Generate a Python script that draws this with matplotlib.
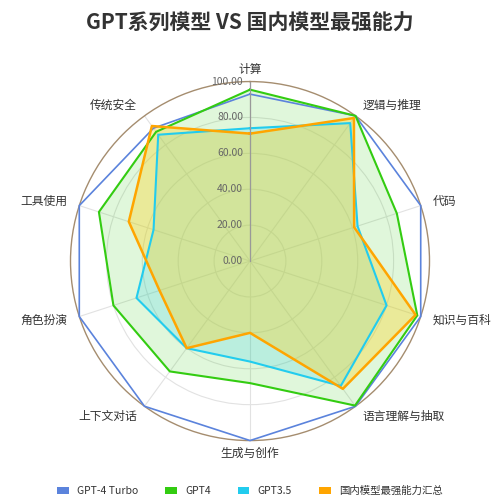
import numpy as np
import matplotlib
matplotlib.use("Agg")
import matplotlib.pyplot as plt
from matplotlib.patches import Patch
from matplotlib.transforms import offset_copy

plt.rcParams['font.family'] = ['Noto Sans CJK SC', 'DejaVu Sans']

categories = ['计算', '逻辑与推理', '代码', '知识与百科', '语言理解与抽取',
              '生成与创作', '上下文对话', '角色扮演', '工具使用', '传统安全']
gpt4_turbo = [93, 100, 100, 100, 100, 100, 100, 100, 100, 91.5]
gpt4 = [95.5, 100, 86, 98, 99.5, 68, 76, 80, 88.5, 89]
gpt35 = [74, 95, 63, 80, 86, 56, 60, 66.5, 56.5, 87]
domestic = [71, 98.5, 61, 97, 88, 40, 60, 53, 71, 93]
series_names = ['GPT-4 Turbo', 'GPT4', 'GPT3.5', '国内模型最强能力汇总']
radial_ticks = [0, 20, 40, 60, 80, 100]

BLUE, GREEN, CYAN, ORANGE = "#5b83dc", "#33cc11", "#22ccee", "#ffa500"
TEXT = "#333333"

fig = plt.figure(figsize=(5.0, 5.03), dpi=100)
ax = fig.add_axes([0.141, 0.124, 0.718, 0.714], polar=True)
ax.set_theta_offset(np.pi / 2)
ax.set_theta_direction(-1)

n = len(categories)
angles = np.linspace(0, 2 * np.pi, n, endpoint=False)
closed = np.append(angles, angles[0])

# values, line colour, line width, fill colour, fill alpha
series = [
    (gpt4_turbo, BLUE, 1.2, None, 0.0),
    (gpt4, GREEN, 1.5, GREEN, 0.15),
    (gpt35, CYAN, 1.5, CYAN, 0.2),
    (domestic, ORANGE, 1.8, "#ffd21f", 0.35),
]
for vals, color, lw, fcolor, alpha in series:
    v = np.append(vals, vals[0])
    if fcolor:
        ax.fill(closed, v, color=fcolor, alpha=alpha, lw=0, zorder=2)
    ax.plot(closed, v, color=color, lw=lw, zorder=3, clip_on=False)

ax.set_ylim(0, 100)
ax.set_yticks(radial_ticks[1:-1])
ax.set_yticklabels([])
ax.set_xticks(angles)
ax.set_xticklabels([])
ax.tick_params(length=0)
ax.grid(True, color="#e2e2e2", lw=0.8)
ax.spines['polar'].set_color("#a58d6f")
ax.spines['polar'].set_linewidth(1.0)
ax.plot([0, 0], [0, 100], color="#999999", lw=0.9, zorder=4)

off = offset_copy(ax.transData, fig=fig, x=-7, y=0, units='dots')
for t in radial_ticks:
    ax.text(0, t, f"{t:.2f}", transform=off, ha='right', va='center',
            fontsize=7.5, color="#666666", zorder=5)

for ang, name in zip(angles, categories):
    sx = np.sin(ang)
    ha = 'center' if abs(sx) < 0.01 else ('left' if sx > 0 else 'right')
    ax.text(ang, 107, name, ha=ha, va='center', fontsize=8.5, color=TEXT)

fig.suptitle("GPT系列模型 VS 国内模型最强能力", x=0.5, y=0.975,
             fontsize=15, fontweight='bold', color=TEXT)

handles = [Patch(facecolor=c, edgecolor='none') for c in (BLUE, GREEN, CYAN, ORANGE)]
fig.legend(handles, series_names, loc='lower center', ncol=4, frameon=False,
           bbox_to_anchor=(0.5, -0.005), fontsize=7.5, handlelength=1.1,
           handleheight=0.6, columnspacing=2.6, labelcolor=TEXT)

fig.savefig("out.png", dpi=100)
